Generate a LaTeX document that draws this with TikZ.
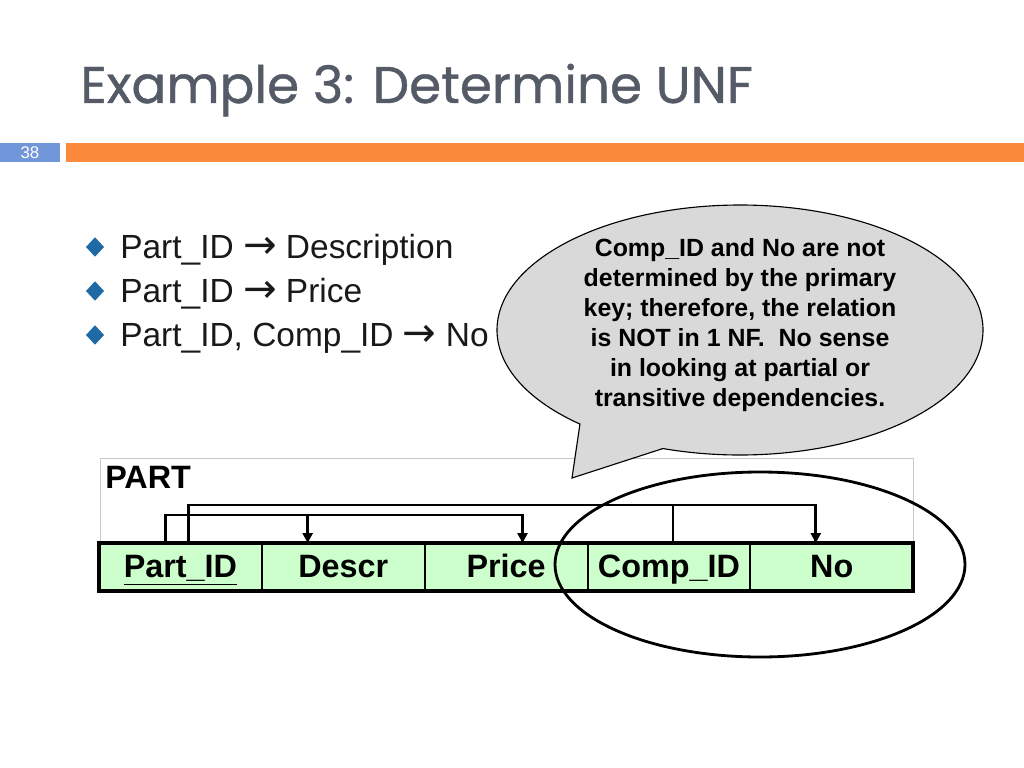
\documentclass[tikz,border=0pt]{standalone}
\usepackage{fontspec}
\setmainfont{Liberation Sans}
\newfontfamily\titlefont[FakeBold=0.8]{Poppins}
\newfontfamily\symfont{DejaVu Sans}
\usepackage{xcolor}
\usetikzlibrary{shapes.geometric,positioning,arrows.meta}

\definecolor{titlegray}{HTML}{545B67}
\definecolor{numblue}{HTML}{7196D9}
\definecolor{barorange}{HTML}{FB8A3C}
\definecolor{bulletblue}{HTML}{1F6AA5}
\definecolor{calloutgray}{HTML}{D9D9D9}
\definecolor{cellgreen}{HTML}{CCFFCC}
\definecolor{framegray}{HTML}{C8C8C8}

\newcommand{\fdarr}{\raisebox{-0.5pt}{\scalebox{1.2}{\symfont →}}}

\begin{document}
\begin{tikzpicture}[
  x=0.025cm, y=-0.025cm,
  bullet/.style={diamond, fill=bulletblue, inner sep=0pt, minimum width=13pt, minimum height=14pt},
  fdtext/.style={anchor=base west, inner sep=0pt, font=\fontsize{23.8}{28}\selectfont, text=black!90},
  cell/.style={draw, line width=1.4pt, fill=cellgreen, minimum width=4.07cm,
    minimum height=1.2cm, inner sep=0pt, outer sep=0pt, text height=18pt, text depth=2.4pt,
    font=\bfseries\fontsize{23}{26}\selectfont},
  fd/.style={line width=2pt},
  fdarrow/.style={line width=2pt, -{Triangle[length=7pt, width=7pt]}},
]
\useasboundingbox (0,0) rectangle (1024,768);

% title and slide bar
\node[anchor=base west, inner sep=0pt, text=titlegray,
      font=\titlefont\fontsize{36.7}{40}\selectfont] (title) at (80,103)
  {Example 3: Determine UNF};
\fill[numblue] (0,143) rectangle (60,162);
\node[text=white, font=\fontsize{12}{14}\selectfont] (slideno) at (30,153) {38};
\fill[barorange] (66,143) rectangle (1024,162);

% functional dependencies
\node[bullet] (b1) at (95,247) {};
\node[bullet] (b2) at (95,291) {};
\node[bullet] (b3) at (95,335) {};
\node[fdtext] (fd1) at (120,258) {Part\_ID \fdarr\ Description};
\node[fdtext] (fd2) at (120,302) {Part\_ID \fdarr\ Price};
\node[fdtext] (fd3) at (120,346) {Part\_ID, Comp\_ID \fdarr\ No};

% relation frame
\draw[framegray, line width=0.5pt] (100,458) rectangle (913,543);
\node[anchor=base west, inner sep=0pt, font=\bfseries\fontsize{23}{26}\selectfont]
  (part) at (105,488) {PART};

% callout
\filldraw[fill=calloutgray, draw=black, line width=0.8pt]
  (740,330) ++(131.2:243 and 125)
  arc[start angle=131.2, end angle=468.5, x radius=243, y radius=125]
  -- (572,478) -- cycle;
\node[align=center, font=\bfseries\fontsize{17.7}{21.3}\selectfont] (note) at (740,325)
  {Comp\_ID and No are not\\
   determined by the primary\\
   key; therefore, the relation\\
   is NOT in 1 NF.\ \ No sense\\
   in looking at partial or\\
   transitive dependencies.};

% relation attributes
\node[cell, anchor=north west] (pid) at (99,543) {\underline{Part\_ID}};
\node[cell, right=0pt of pid] (desc) {Descr};
\node[cell, right=0pt of desc] (price) {Price};
\node[cell, right=0pt of price] (comp) {Comp\_ID};
\node[cell, right=0pt of comp] (no) {No};
\draw[line width=3pt] (pid.north west) rectangle (no.south east);

% dependency lines
\draw[fd] ([xshift=-0.375cm]pid.north) -- ++(0,-28) -| ([xshift=0.41cm]price.north);
\draw[fdarrow] ([xshift=0.41cm]price.north) ++(0,-28) -- ([xshift=0.41cm]price.north);
\draw[fdarrow] ([xshift=-0.89cm]desc.north) ++(0,-28) -- ([xshift=-0.89cm]desc.north);
\draw[fd] ([xshift=0.2cm]pid.north) -- ++(0,-38) -| ([xshift=-0.4cm]no.north);
\draw[fdarrow] ([xshift=-0.4cm]no.north) ++(0,-38) -- ([xshift=-0.4cm]no.north);
\draw[fd] ([xshift=0.1cm]comp.north) -- ++(0,-38);

% non-key attributes
\draw[line width=2pt] (760,564.5) ellipse[x radius=205, y radius=92.5];
\end{tikzpicture}
\end{document}
